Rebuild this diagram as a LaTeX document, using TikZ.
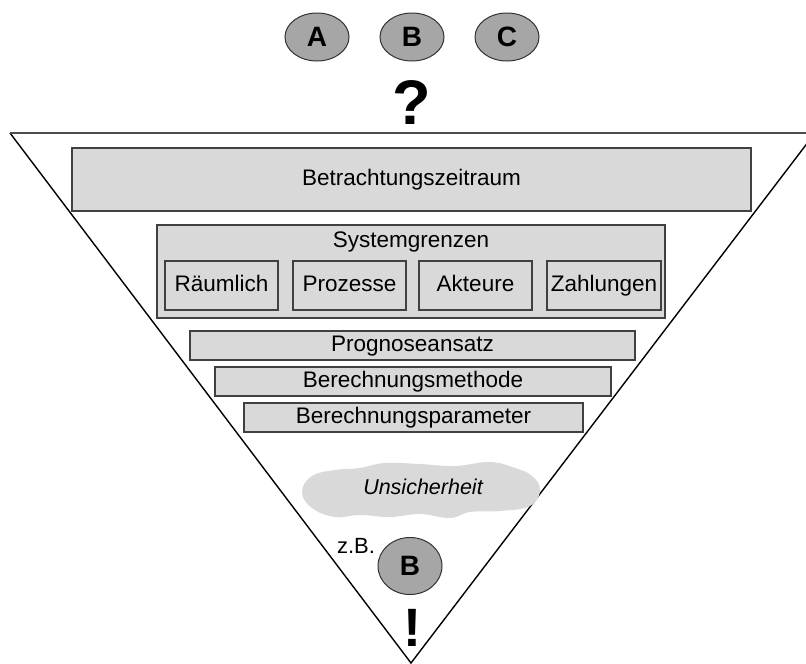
\documentclass[tikz,border=0pt]{standalone}
\usepackage{fontspec}
\usetikzlibrary{shapes.geometric}
\setmainfont{Liberation Sans}
\begin{document}
\begin{tikzpicture}[x=1pt,y=-1pt,
  boxfill/.style={draw=black!75,line width=1.3pt,fill=black!15,inner sep=0pt,
    text height=16pt,text depth=4.5pt,font=\fontsize{22.5}{26}\selectfont},
  subbox/.style={boxfill,minimum width=113pt,minimum height=49pt},
  option/.style={ellipse,draw=black!80,line width=1pt,fill=black!35,inner sep=0pt,
    minimum width=64pt,minimum height=48pt,font=\fontsize{28}{32}\selectfont\bfseries},
  edge/.style={line width=1.4pt,black}]
\useasboundingbox (0,0) rectangle (806,664);
\begin{scope}
\clip (0,0) rectangle (806,664);
% funnel outline
\coordinate (tl) at (10,133);
\coordinate (tr) at (815,133);
\coordinate (apex) at (411,663);
\draw[edge] (tl) -- (apex) -- (tr);
\draw[line width=2.4pt,black!70] (tl) -- (tr);
\end{scope}

% alternatives on top
\node[option] (A) at (317,37) {A};
\node[option] (B) at (412,37) {B};
\node[option] (C) at (507,37) {C};
\node[font=\fontsize{63}{66}\selectfont\bfseries,inner sep=0pt] (q) at (412,103) {?};

% layers of the funnel
\node[boxfill,minimum width=679pt,minimum height=63pt] (zeit) at (411.5,179.5) {Betrachtungszeitraum};
\node[boxfill,minimum width=508pt,minimum height=93pt] (sys) at (411,271.5) {};
\node[font=\fontsize{22.5}{26}\selectfont,inner sep=0pt,text height=16pt,text depth=4.5pt] (systxt) at (411,242) {Systemgrenzen};
\node[subbox] (raum) at (221.5,285.5) {Räumlich};
\node[subbox] (proz) at (349.5,285.5) {Prozesse};
\node[subbox] (akt) at (475.5,285.5) {Akteure};
\node[subbox,minimum width=114pt] (zahl) at (604,285.5) {Zahlungen};
\node[boxfill,minimum width=445pt,minimum height=29pt] (prog) at (412.5,345.5) {Prognoseansatz};
\node[boxfill,minimum width=396pt,minimum height=29pt] (meth) at (413,381.5) {Berechnungsmethode};
\node[boxfill,minimum width=339pt,minimum height=29pt] (param) at (413.5,417.5) {Berechnungsparameter};

% cloud of uncertainty
\fill[black!15] plot[smooth cycle,tension=0.7] coordinates {
  (302,492) (312,476) (335,470) (360,468) (385,463) (420,464) (455,466)
  (490,462) (515,468) (532,476) (540,490) (530,506) (500,511) (470,512)
  (450,518) (420,514) (390,517) (360,515) (335,517) (312,508)};
\node[font=\fontsize{21.5}{24}\selectfont\itshape,inner sep=0pt] (unsich) at (423,487) {Unsicherheit};

% chosen alternative
\node[option,minimum width=64pt,minimum height=57pt] (Bres) at (410,566) {B};
\node[font=\fontsize{22}{24}\selectfont,inner sep=0pt] (zb) at (356,546) {z.B.};
\node[font=\fontsize{54}{58}\selectfont\bfseries,inner sep=0pt] (excl) at (412,628) {!};
\end{tikzpicture}
\end{document}
